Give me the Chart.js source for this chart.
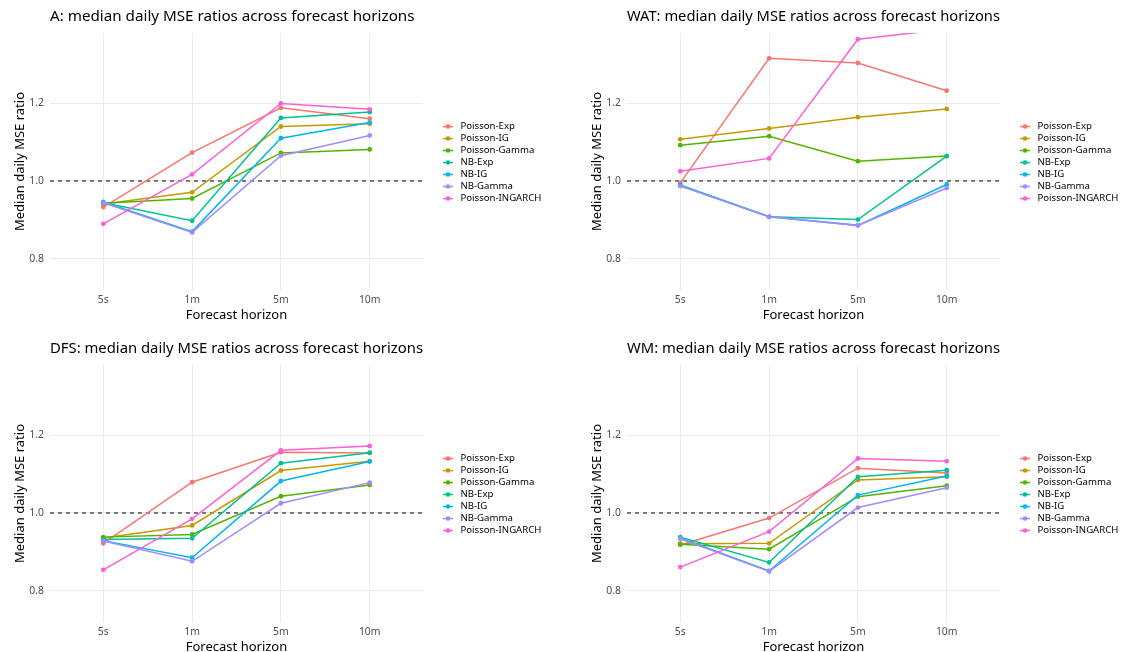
<!DOCTYPE html>
<html>
<head>
<meta charset="utf-8">
<title>Median daily MSE ratios</title>
<script src="https://cdn.jsdelivr.net/npm/chart.js@4.4.1/dist/chart.umd.min.js"></script>
<style>
  html, body { margin: 0; padding: 0; background: #fff; overflow: hidden; }
  #wrap { position: relative; width: 1121px; height: 652px; overflow: hidden; }
  .panel { position: absolute; width: 560px; height: 326px; }
</style>
</head>
<body>
<div id="wrap">
  <div class="panel" style="left:0;top:0"><canvas id="chartA"></canvas></div>
  <div class="panel" style="left:577px;top:0"><canvas id="chartWAT"></canvas></div>
  <div class="panel" style="left:0;top:332px"><canvas id="chartDFS"></canvas></div>
  <div class="panel" style="left:577px;top:332px"><canvas id="chartWM"></canvas></div>
</div>
<script>
const horizons = ['5s', '1m', '5m', '10m'];
const models = ['Poisson-Exp', 'Poisson-IG', 'Poisson-Gamma', 'NB-Exp', 'NB-IG', 'NB-Gamma', 'Poisson-INGARCH'];
const modelColors = ['#F8766D', '#C49A00', '#53B400', '#00C094', '#00B6EB', '#A58AFF', '#FB61D7'];
const yTicks = [0.8, 1.0, 1.2];
const refRatio = 1.0;

// one row per model, same order as models; columns follow horizons
const ratiosA = [
  [0.933, 1.073, 1.188, 1.160],
  [0.941, 0.971, 1.140, 1.147],
  [0.943, 0.955, 1.072, 1.081],
  [0.944, 0.898, 1.162, 1.177],
  [0.946, 0.870, 1.110, 1.150],
  [0.944, 0.868, 1.065, 1.117],
  [0.890, 1.017, 1.199, 1.184]
];
const ratiosWAT = [
  [0.995, 1.315, 1.303, 1.232],
  [1.107, 1.135, 1.164, 1.185],
  [1.092, 1.115, 1.051, 1.064],
  [0.989, 0.908, 0.901, 1.064],
  [0.989, 0.908, 0.886, 0.991],
  [0.987, 0.908, 0.886, 0.982],
  [1.025, 1.058, 1.364, 1.390]
];
const ratiosDFS = [
  [0.922, 1.079, 1.156, 1.154],
  [0.936, 0.968, 1.109, 1.133],
  [0.938, 0.945, 1.043, 1.072],
  [0.932, 0.935, 1.128, 1.155],
  [0.929, 0.885, 1.082, 1.132],
  [0.928, 0.876, 1.025, 1.078],
  [0.854, 0.985, 1.161, 1.172]
];
const ratiosWM = [
  [0.918, 0.987, 1.115, 1.103],
  [0.921, 0.922, 1.085, 1.093],
  [0.920, 0.907, 1.042, 1.070],
  [0.938, 0.873, 1.093, 1.110],
  [0.936, 0.851, 1.046, 1.095],
  [0.934, 0.850, 1.014, 1.065],
  [0.861, 0.952, 1.140, 1.133]
];

Chart.defaults.font.family = '"Noto Sans", "Open Sans", sans-serif';

// dashed reference line at ratio 1
const refLine = {
  id: 'refLine',
  beforeDatasetsDraw(chart) {
    const ctx = chart.ctx;
    const a = chart.chartArea;
    const py = chart.scales.y.getPixelForValue(refRatio);
    ctx.save();
    ctx.setLineDash([4, 4]);
    ctx.lineWidth = 1;
    ctx.strokeStyle = '#000';
    ctx.beginPath();
    ctx.moveTo(a.left, py);
    ctx.lineTo(a.right, py);
    ctx.stroke();
    ctx.restore();
  }
};

// ggplot-like legend: line + dot key, to the right of the plot
const keyLegend = {
  id: 'keyLegend',
  afterDraw(chart) {
    const ctx = chart.ctx;
    const a = chart.chartArea;
    const cx = a.right + 25;
    const mid = (a.top + a.bottom) / 2 + 1;
    ctx.save();
    ctx.font = '9.6px "Noto Sans"';
    ctx.textBaseline = 'middle';
    models.forEach(function (name, i) {
      const y = mid + (i - (models.length - 1) / 2) * 12;
      ctx.strokeStyle = modelColors[i];
      ctx.lineWidth = 1.5;
      ctx.beginPath();
      ctx.moveTo(cx - 5, y);
      ctx.lineTo(cx + 5, y);
      ctx.stroke();
      ctx.fillStyle = modelColors[i];
      ctx.beginPath();
      ctx.arc(cx, y, 2.3, 0, Math.PI * 2);
      ctx.fill();
      ctx.fillStyle = '#000';
      ctx.fillText(name, cx + 12.5, y);
    });
    ctx.restore();
  }
};

function makeChart(id, title, ratios) {
  return new Chart(document.getElementById(id), {
    type: 'line',
    data: {
      datasets: models.map(function (name, i) {
        return {
          label: name,
          data: ratios[i].map(function (v, k) { return { x: k, y: v }; }),
          borderColor: modelColors[i],
          backgroundColor: modelColors[i],
          borderWidth: 1.5,
          pointRadius: 2.4,
          pointHoverRadius: 2.4,
          pointBorderWidth: 0,
          tension: 0,
          order: -i
        };
      })
    },
    options: {
      responsive: true,
      maintainAspectRatio: false,
      animation: false,
      events: [],
      layout: { padding: { left: 0, right: 137, top: 0, bottom: 3 } },
      scales: {
        x: {
          type: 'linear',
          min: -0.6,
          max: 3.6,
          afterBuildTicks: function (s) { s.ticks = horizons.map(function (h, k) { return { value: k }; }); },
          afterFit: function (s) { s.height = 33; },
          ticks: {
            callback: function (v) { return horizons[v]; },
            color: '#4d4d4d',
            font: { size: 10.4 },
            padding: 4,
            maxRotation: 0,
            autoSkip: false
          },
          grid: { color: '#ebebeb', lineWidth: 1, drawTicks: false },
          border: { display: false },
          title: {
            display: true,
            text: 'Forecast horizon',
            color: '#000',
            font: { size: 13 },
            padding: { top: 0, bottom: 0 }
          }
        },
        y: {
          min: 0.72,
          max: 1.38,
          afterBuildTicks: function (s) { s.ticks = yTicks.map(function (v) { return { value: v }; }); },
          afterFit: function (s) { s.width = 50; },
          ticks: {
            callback: function (v) { return v.toFixed(1); },
            color: '#4d4d4d',
            font: { size: 10.4 },
            padding: 6
          },
          grid: { color: '#ebebeb', lineWidth: 1, drawTicks: false },
          border: { display: false },
          title: {
            display: true,
            text: 'Median daily MSE ratio',
            color: '#000',
            font: { size: 13 },
            padding: { top: 12, bottom: 0 }
          }
        }
      },
      plugins: {
        legend: { display: false },
        tooltip: { enabled: false },
        title: {
          display: true,
          text: title,
          align: 'start',
          fullSize: false,
          color: '#000',
          font: { size: 15.2, weight: 'normal' },
          padding: { top: 7.5, bottom: 7.3 }
        }
      }
    },
    plugins: [refLine, keyLegend]
  });
}

makeChart('chartA', 'A: median daily MSE ratios across forecast horizons', ratiosA);
makeChart('chartWAT', 'WAT: median daily MSE ratios across forecast horizons', ratiosWAT);
makeChart('chartDFS', 'DFS: median daily MSE ratios across forecast horizons', ratiosDFS);
makeChart('chartWM', 'WM: median daily MSE ratios across forecast horizons', ratiosWM);
</script>
</body>
</html>
